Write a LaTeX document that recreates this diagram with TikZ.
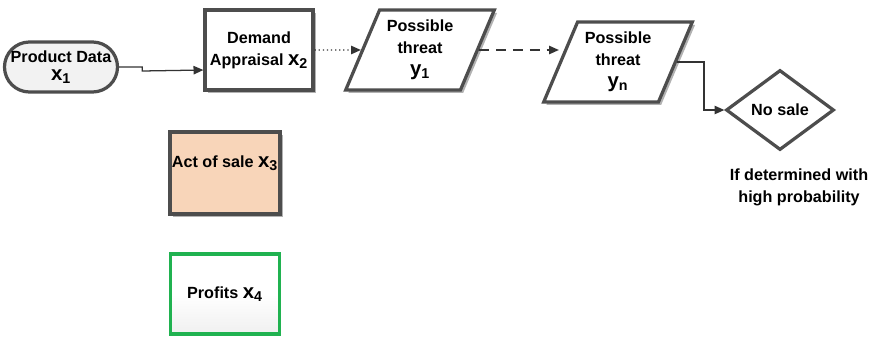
\documentclass[tikz,border=0pt]{standalone}
\usepackage{fontspec}
\setmainfont{Liberation Sans}
\usetikzlibrary{shapes.geometric, shapes.misc, arrows.meta, shadows}
\definecolor{edge}{RGB}{77,77,77}
\definecolor{peach}{RGB}{248,213,185}
\definecolor{profitgreen}{RGB}{32,178,80}
\newcommand{\vsub}[2]{{\fontsize{14.5}{14}\selectfont #1\textsubscript{#2}}}

\begin{document}
\begin{tikzpicture}[x=0.025cm, y=-0.025cm, font=\fontsize{11.5}{15.5}\selectfont\bfseries]
    % shadow of the boxes
    \tikzstyle{shade}=[drop shadow={shadow xshift=0.7mm, shadow yshift=-0.7mm, fill=black, opacity=0.3}]
    % process boxes
    \tikzstyle{proc}=[draw=edge, line width=2.3pt, fill=white, align=center, inner sep=1pt]
    % input boxes (parallelogram)
    \tikzstyle{io}=[proc, trapezium, trapezium left angle=65, trapezium right angle=115,
        trapezium stretches=true, minimum width=3.725cm, minimum height=2cm]
    \tikzstyle{link}=[draw=black!80, line width=0.9pt, -{Triangle[length=7pt, width=6pt]}]
    \useasboundingbox (0,0) rectangle (874,337);
    % upper row
    \node[proc, rounded rectangle, fill=gray!10, minimum width=2.825cm, minimum height=1.25cm,
        inner xsep=0pt] (data) at (61,67) {Product Data\\[-3pt]\vsub{x}{1}};
    \node[proc, shade, rectangle, minimum width=2.7cm, minimum height=2cm] (demand) at (259,50)
        {Demand\\Appraisal \vsub{x}{2}};
    \node[io, shade] (threat1) at (420,50) {Possible\\threat\\\vsub{y}{1}};
    \node[io, shade] (threatn) at (618,62) {Possible\\threat\\\vsub{y}{n}};
    \node[proc, diamond, aspect=1.35, minimum width=2.7cm, minimum height=2cm, inner sep=0pt]
        (nosale) at (780,110) {No sale};
    \node[align=center] (note) at (799,187) {If determined with\\high probability};
    % lower boxes
    \node[proc, shade, fill=peach, minimum width=2.75cm, minimum height=2.05cm, text depth=0.55cm]
        (sale) at (225,173) {Act of sale \vsub{x}{3}};
    \node[proc, draw=profitgreen, top color=white, bottom color=gray!12, middle color=white,
        minimum width=2.725cm, minimum height=2cm] (profits) at (225,294) {Profits \vsub{x}{4}};
    % connectors
    \draw[link] (data.east) -- ++(23,0) -- ++(0,4) -- ([yshift=-0.5cm]demand.west);
    \draw[link, dotted] (demand.east) -- (threat1.west);
    \draw[link, dash pattern=on 7pt off 5pt] (threat1.east) -- (threat1.east -| threatn.west);
    \draw[link] (threatn.east) -- ++(27,0) |- (nosale.west);
\end{tikzpicture}
\end{document}
